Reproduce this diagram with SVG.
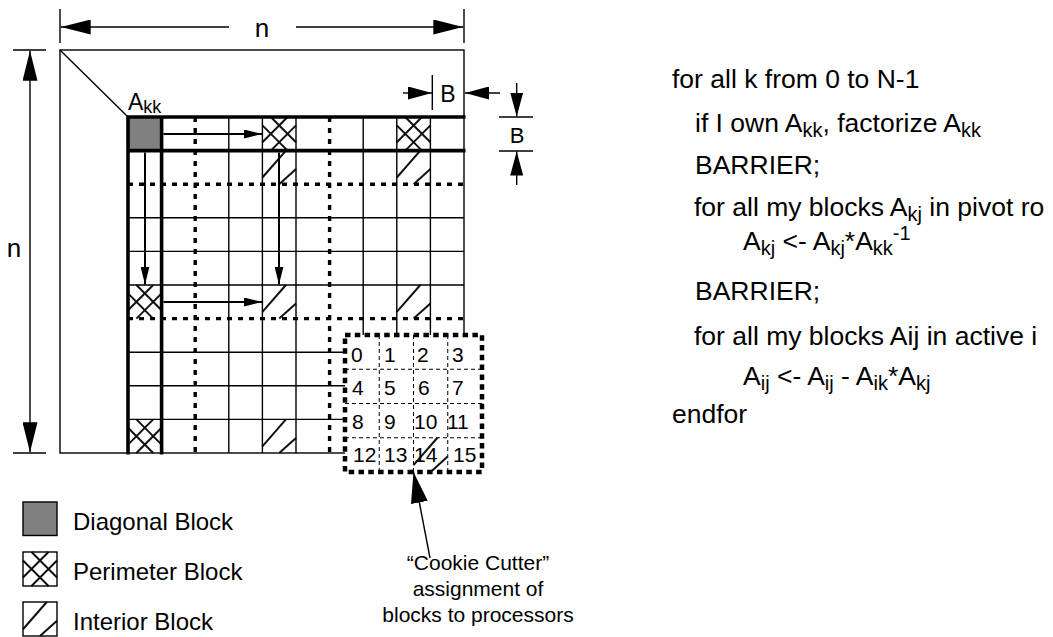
<svg xmlns="http://www.w3.org/2000/svg" xmlns:xlink="http://www.w3.org/1999/xlink" width="1053" height="637" viewBox="0 0 1053 637">
<style>
text{font-family:"Liberation Sans",Arial,Helvetica,sans-serif;fill:#000}
.thin{stroke:#000;stroke-width:1.4;fill:none}
.thick{stroke:#000;stroke-width:3.6;fill:none}
.dot{stroke:#000;stroke-width:3.4;stroke-dasharray:5 6;fill:none}
.hat{stroke:#111;stroke-width:2;fill:none}
.arr{stroke:#000;stroke-width:2;fill:none}
.dim{stroke:#000;stroke-width:1.4;fill:none}
.code{font-size:26.5px}
.csub{font-size:20px}
.sub{font-size:18px}
.num{font-size:21px}
</style>
<defs>
<marker id="ah" markerUnits="userSpaceOnUse" markerWidth="18" markerHeight="9" refX="18" refY="4.5" orient="auto"><path d="M0,0 L18,4.5 L0,9 z" fill="#000"/></marker>
<marker id="big" markerUnits="userSpaceOnUse" markerWidth="30" markerHeight="15" refX="30" refY="7.5" orient="auto"><path d="M0,0 L30,7.5 L0,15 z" fill="#000"/></marker>
<marker id="bh" markerUnits="userSpaceOnUse" markerWidth="24" markerHeight="13" refX="24" refY="6.5" orient="auto"><path d="M0,0 L24,6.5 L0,13 z" fill="#000"/></marker>
<marker id="lead" markerUnits="userSpaceOnUse" markerWidth="31" markerHeight="17" refX="31" refY="8.5" orient="auto"><path d="M0,0 L31,8.5 L0,17 z" fill="#000"/></marker>
<g id="perim" class="hat">
<line x1="8.4" y1="0" x2="33.6" y2="25.2"/><line x1="0" y1="8.4" x2="25.2" y2="33.6"/>
<line x1="25.2" y1="0" x2="0" y2="25.2"/><line x1="33.6" y1="8.4" x2="8.4" y2="33.6"/>
</g>
<g id="inter" class="hat">
<line x1="0" y1="26.9" x2="23.5" y2="0"/><line x1="16.8" y1="33.6" x2="33.6" y2="18.5"/>
</g>
</defs>
<rect width="1053" height="637" fill="#fff"/>

<g id="matrix">
<rect x="60" y="50" width="404" height="403" class="thin"/>
<line x1="60" y1="50" x2="128" y2="117" class="thin"/>
<g id="hatches">
<rect x="128" y="117" width="33.6" height="33.6" fill="#808080"/>
<use xlink:href="#perim" x="262.4" y="117"/>
<use xlink:href="#perim" x="396.8" y="117"/>
<use xlink:href="#perim" x="128" y="285"/>
<use xlink:href="#perim" x="128" y="419.4"/>
<use xlink:href="#inter" x="262.4" y="150.6"/>
<use xlink:href="#inter" x="396.8" y="150.6"/>
<use xlink:href="#inter" x="262.4" y="285"/>
<use xlink:href="#inter" x="396.8" y="285"/>
<use xlink:href="#inter" x="262.4" y="419.4"/>
</g>
<path class="thin" d="M228.8,117V453 M262.4,117V453 M296,117V453 M363.2,117V453 M396.8,117V453 M430.4,117V453 M128,217.8H464 M128,251.4H464 M128,285H464 M128,352.2H464 M128,385.8H464 M128,419.4H464"/>
<path class="dot" d="M195.2,117V453 M329.6,117V453 M128,184.2H464 M128,318.6H464"/>
<path class="thick" d="M126.2,117H465.5 M126.2,150.6H465.5 M128,117V454.5 M161.6,117V454.5"/>
<text x="128" y="110" font-size="23">A<tspan class="sub" dy="3">kk</tspan></text>
</g>

<g id="cookie-cutter">
<rect x="345" y="335" width="137" height="137" fill="#fff" stroke="#000" stroke-width="4.5" stroke-dasharray="5.5 4.3"/>
<path d="M379.25,335V472 M413.5,335V472 M447.75,335V472 M345,369.25H482 M345,403.5H482 M345,437.75H482" stroke="#000" stroke-width="1" stroke-dasharray="4 3" fill="none"/>
<use xlink:href="#inter" transform="translate(413.5,437.75) scale(1.018)"/>
<g class="num">
<text x="351" y="362" class="num">0</text><text x="384" y="362" class="num">1</text><text x="417" y="362" class="num">2</text><text x="452" y="362" class="num">3</text>
<text x="352" y="394.5" class="num">4</text><text x="384" y="394.5" class="num">5</text><text x="418" y="394.5" class="num">6</text><text x="452" y="394.5" class="num">7</text>
<text x="352" y="428.5" class="num">8</text><text x="384" y="428.5" class="num">9</text><text x="414" y="428.5" class="num">10</text><text x="447" y="428.5" class="num">11</text>
<text x="353" y="462" class="num">12</text><text x="384" y="462" class="num">13</text><text x="414" y="462" class="num">14</text><text x="453" y="462" class="num">15</text>
</g>
</g>

<g id="cookie-label" font-size="21">
<text x="478" y="570" text-anchor="middle" font-size="21">“Cookie Cutter”</text>
<text x="478" y="596" text-anchor="middle" font-size="21">assignment of</text>
<text x="478" y="622" text-anchor="middle" font-size="21">blocks to processors</text>
</g>

<g id="dim-top">
<line x1="60" y1="9" x2="60" y2="43" class="dim"/>
<line x1="464" y1="9" x2="464" y2="43" class="dim"/>
<text x="262" y="37" text-anchor="middle" font-size="26">n</text>
</g>
<g id="dim-left">
<line x1="13" y1="50" x2="46" y2="50" class="dim"/>
<line x1="13" y1="453" x2="46" y2="453" class="dim"/>
<text x="14" y="257" text-anchor="middle" font-size="26">n</text>
</g>
<g id="dim-b">
<line x1="432.3" y1="75" x2="432.3" y2="110" class="dim"/>
<text x="448" y="101.5" text-anchor="middle" font-size="23">B</text>
<line x1="499" y1="117" x2="533" y2="117" class="dim"/>
<line x1="499" y1="151" x2="533" y2="151" class="dim"/>
<text x="517" y="143" text-anchor="middle" font-size="22">B</text>
</g>

<g id="connectors">
<line x1="229" y1="27" x2="60.7" y2="27" class="dim" marker-end="url(#big)"/>
<line x1="296" y1="27" x2="463.3" y2="27" class="dim" marker-end="url(#big)"/>
<line x1="30" y1="250" x2="30" y2="50.7" class="dim" marker-end="url(#big)"/>
<line x1="30" y1="250" x2="30" y2="452.3" class="dim" marker-end="url(#big)"/>
<line x1="403" y1="93" x2="432" y2="93" class="dim" marker-end="url(#bh)"/>
<line x1="500" y1="93" x2="465" y2="93" class="dim" marker-end="url(#bh)"/>
<line x1="516.7" y1="83" x2="516.7" y2="116.5" class="dim" marker-end="url(#bh)"/>
<line x1="516.7" y1="185" x2="516.7" y2="151.5" class="dim" marker-end="url(#bh)"/>
<line x1="163.5" y1="134" x2="262" y2="134" class="arr" marker-end="url(#ah)"/>
<line x1="163.5" y1="302" x2="262" y2="302" class="arr" marker-end="url(#ah)"/>
<line x1="145" y1="152.5" x2="145" y2="284.5" class="arr" marker-end="url(#ah)"/>
<line x1="279" y1="152.5" x2="279" y2="284.5" class="arr" marker-end="url(#ah)"/>
<line x1="430" y1="558" x2="413.5" y2="472" class="dim" marker-end="url(#lead)"/>
</g>

<g id="legend">
<g id="legend-diagonal">
<rect x="23" y="502" width="34" height="33.5" fill="#808080" stroke="#000" stroke-width="1.4"/>
<text x="73" y="530" font-size="24">Diagonal Block</text>
</g>
<g id="legend-perimeter">
<use xlink:href="#perim" transform="translate(23,552) scale(1.012,1.012)"/>
<rect x="23" y="552" width="34" height="34" fill="none" stroke="#000" stroke-width="1.4"/>
<text x="73" y="579.5" font-size="24">Perimeter Block</text>
</g>
<g id="legend-interior">
<use xlink:href="#inter" transform="translate(23,602) scale(1.012,1.012)"/>
<rect x="23" y="602" width="34" height="34" fill="none" stroke="#000" stroke-width="1.4"/>
<text x="73" y="630" font-size="24">Interior Block</text>
</g>
</g>

<g id="code" class="code">
<text class="code" x="672" y="88">for all k from 0 to N-1</text>
<text class="code" x="695" y="132">if I own A<tspan class="csub" dy="5">kk</tspan><tspan dy="-5">, factorize A</tspan><tspan class="csub" dy="5">kk</tspan></text>
<text class="code" x="695" y="173.5">BARRIER;</text>
<text class="code" x="694" y="216">for all my blocks A<tspan class="csub" dy="5">kj</tspan><tspan dy="-5"> in pivot ro</tspan></text>
<text class="code" x="743" y="250">A<tspan class="csub" dy="5">kj</tspan><tspan dy="-5"> &lt;- A</tspan><tspan class="csub" dy="5">kj</tspan><tspan dy="-5">*A</tspan><tspan class="csub" dy="5">kk</tspan><tspan class="csub" dy="-15">-1</tspan></text>
<text class="code" x="695" y="300">BARRIER;</text>
<text class="code" x="694" y="345">for all my blocks Aij in active i</text>
<text class="code" x="743" y="385">A<tspan class="csub" dy="5">ij</tspan><tspan dy="-5"> &lt;- A</tspan><tspan class="csub" dy="5">ij</tspan><tspan dy="-5"> - A</tspan><tspan class="csub" dy="5">ik</tspan><tspan dy="-5">*A</tspan><tspan class="csub" dy="5">kj</tspan></text>
<text class="code" x="672" y="423">endfor</text>
</g>
</svg>
